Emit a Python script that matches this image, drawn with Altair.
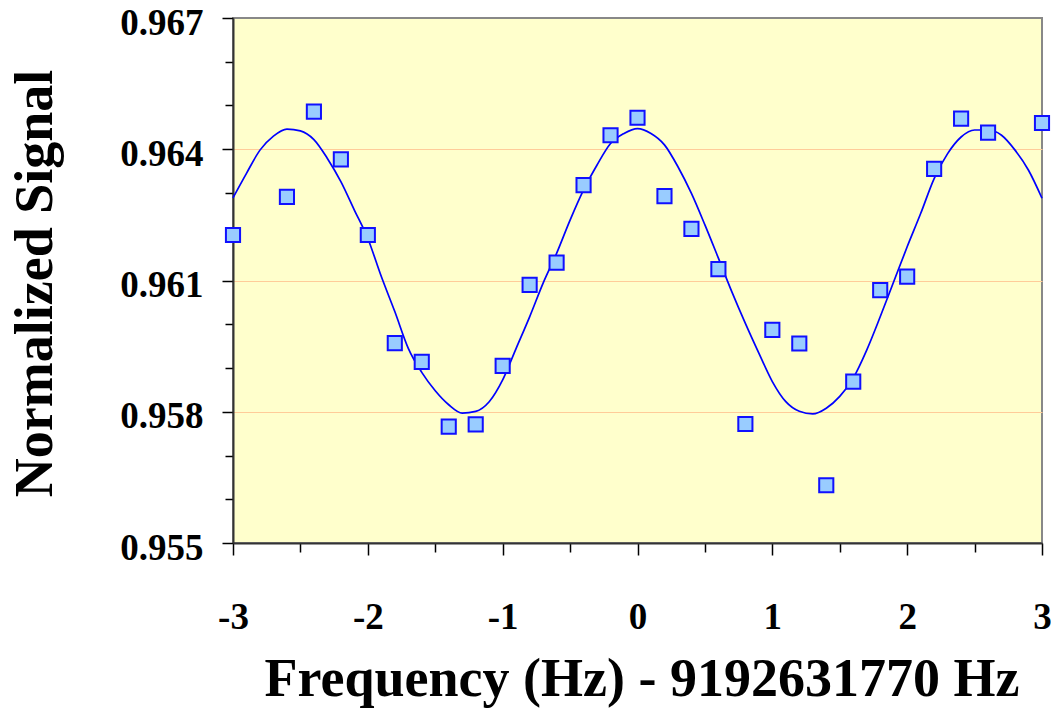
import altair as alt
import pandas as pd

# Measured data points (square markers)
freq = [-3.0, -2.6, -2.4, -2.2, -2.0, -1.8, -1.6, -1.4, -1.2, -1.0, -0.8, -0.6, -0.4, -0.2,
        0.0, 0.2, 0.4, 0.6, 0.8, 1.0, 1.2, 1.4, 1.6, 1.8, 2.0, 2.2, 2.4, 2.6, 3.0]
signal = [0.96204, 0.96291, 0.96486, 0.96377, 0.96204, 0.95957, 0.95914, 0.95766, 0.95771,
          0.95905, 0.96090, 0.96141, 0.96318, 0.96432, 0.96472, 0.96293, 0.96218, 0.96126,
          0.95772, 0.95987, 0.95956, 0.95632, 0.95869, 0.96078, 0.96109, 0.96355, 0.96470,
          0.96438, 0.96460]

# Fitted fringe curve
fit_freq = [-3.0, -2.9, -2.8, -2.7, -2.6, -2.5, -2.4, -2.3, -2.2, -2.1, -2.0, -1.9, -1.8, -1.7,
            -1.6, -1.5, -1.4, -1.3, -1.2, -1.1, -1.0, -0.9, -0.8, -0.7, -0.6, -0.5, -0.4, -0.3,
            -0.2, -0.1, 0.0, 0.1, 0.2, 0.3, 0.4, 0.5, 0.6, 0.7, 0.8, 0.9, 1.0, 1.1, 1.2, 1.3,
            1.4, 1.5, 1.6, 1.7, 1.8, 1.9, 2.0, 2.1, 2.2, 2.3, 2.4, 2.5, 2.6, 2.7, 2.8, 2.9, 3.0]
fit_signal = [0.96289, 0.96345, 0.96398, 0.96430, 0.96446, 0.96442, 0.96422, 0.96379, 0.96326,
              0.96261, 0.96196, 0.96109, 0.96029, 0.95945, 0.95890, 0.95848, 0.95816, 0.95797,
              0.95801, 0.95823, 0.95873, 0.95945, 0.96017, 0.96094, 0.96162, 0.96238, 0.96307,
              0.96364, 0.96413, 0.96436, 0.96447, 0.96436, 0.96410, 0.96360, 0.96299, 0.96227,
              0.96151, 0.96074, 0.96002, 0.95934, 0.95869, 0.95823, 0.95801, 0.95795, 0.95808,
              0.95835, 0.95877, 0.95941, 0.96017, 0.96097, 0.96177, 0.96253, 0.96333, 0.96390,
              0.96428, 0.96444, 0.96444, 0.96432, 0.96398, 0.96352, 0.96288]

x_ticks = [-3, -2.5, -2, -1.5, -1, -0.5, 0, 0.5, 1, 1.5, 2, 2.5, 3]
y_ticks = [0.955, 0.956, 0.957, 0.958, 0.959, 0.960, 0.961, 0.962, 0.963, 0.964, 0.965, 0.966, 0.967]

pts = pd.DataFrame({"f": freq, "s": signal})
fit = pd.DataFrame({"f": fit_freq, "s": fit_signal})

FONT = "Liberation Serif"
x_major = "abs(datum.value - round(datum.value)) < 0.01"
y_major = "round((datum.value - 0.955) * 1000) % 3 == 0"
y_grid = y_major + " && datum.value > 0.9555 && datum.value < 0.9665"

PLOT_W = 809
PLOT_H = 525

x_scale = alt.Scale(domain=[-3, 3], nice=False, zero=False)
y_scale = alt.Scale(domain=[0.955, 0.967], nice=False, zero=False)

x_axis = alt.Axis(
    values=x_ticks,
    labelExpr=x_major + " ? ((datum.value < 0 ? '-' : '') + abs(round(datum.value))) : ''",
    tickSize={"condition": {"test": x_major, "value": 12}, "value": 9},
    tickColor="#000000", tickWidth=1.5,
    grid=False,
    domainColor="#333333", domainWidth=2,
    labelFont=FONT, labelFontSize=37, labelFontWeight="bold", labelColor="#000000",
    labelPadding=44, labelOverlap=False, labelFlush=False, labelBaseline="top",
    title="Frequency (Hz) - 9192631770 Hz",
    titleFont=FONT, titleFontSize=54, titleFontWeight="bold", titleColor="#000000",
    titleX=PLOT_W / 2 + 4, titleY=152, titleBaseline="alphabetic", titleAlign="center",
)
y_axis = alt.Axis(
    values=y_ticks,
    labelExpr=y_major + " ? format(datum.value, '.3f') : ''",
    tickSize={"condition": {"test": y_major, "value": 11}, "value": 8},
    tickColor="#000000", tickWidth=1.5,
    grid=True, gridColor="#FFCC99", gridWidth=1,
    gridOpacity={"condition": {"test": y_grid, "value": 1}, "value": 0},
    domainColor="#333333", domainWidth=2,
    labelFont=FONT, labelFontSize=37, labelFontWeight="bold", labelColor="#000000",
    labelPadding=19, labelOverlap=False, labelFlush=False, labelBaseline="middle",
    labelOffset=5,
    title="Normalized Signal",
    titleFont=FONT, titleFontSize=54, titleFontWeight="bold", titleColor="#000000",
    titleAngle=270, titleX=-182, titleY=265, titleBaseline="alphabetic", titleAlign="center",
)

line = alt.Chart(fit).mark_line(color="#0000FF", strokeWidth=1.7, interpolate="monotone").encode(
    x=alt.X("f:Q", scale=x_scale, axis=x_axis),
    y=alt.Y("s:Q", scale=y_scale, axis=y_axis),
)
points = alt.Chart(pts).mark_point(
    shape="square", filled=True, fill="#99CCFF", stroke="#1010FF", strokeWidth=2,
    size=200, opacity=1,
).encode(
    x=alt.X("f:Q", scale=x_scale, axis=x_axis),
    y=alt.Y("s:Q", scale=y_scale, axis=y_axis),
)

chart = alt.layer(line, points).properties(
    width=PLOT_W, height=PLOT_H,
    autosize=alt.AutoSizeParams(type="none"),
    padding={"left": 225, "top": 10, "right": 9, "bottom": 165},
    background="#FFFFFF",
).configure_view(
    fill="#FFFFCC", stroke="#888888", strokeWidth=2,
)

chart.save("out.html", embed_options={"renderer": "svg", "actions": False})
